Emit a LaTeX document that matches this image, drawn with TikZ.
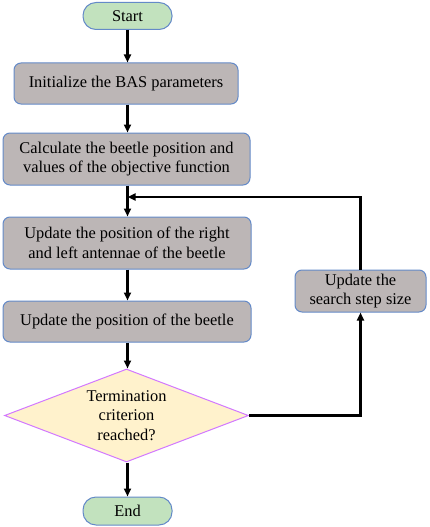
\documentclass[tikz,border=0pt]{standalone}
\usepackage{fontspec}
\setmainfont{Liberation Serif}
\usetikzlibrary{shapes.geometric,arrows.meta}
\definecolor{boxgray}{RGB}{188,182,182}
\definecolor{boxblue}{RGB}{100,138,200}
\definecolor{termgreen}{RGB}{194,226,190}
\definecolor{decfill}{RGB}{255,242,204}
\definecolor{decline}{RGB}{210,120,255}
\tikzset{
  procbox/.style={draw=boxblue, fill=boxgray, line width=1pt, rounded corners=7pt,
    align=center, inner sep=0pt, font=\fontsize{16.4}{19.5}\selectfont},
  termbox/.style={draw=boxblue, fill=termgreen, line width=1pt, rounded corners=13pt,
    align=center, inner sep=0pt, font=\fontsize{16.4}{19.5}\selectfont},
  decbox/.style={diamond, draw=decline, fill=decfill, line width=1pt, aspect=2.6,
    align=center, inner sep=0pt, font=\fontsize{16.4}{19.5}\selectfont},
  flow/.style={draw=black, line width=2.4pt, -{Triangle[length=8pt,width=7pt]}}
}
\begin{document}
\begin{tikzpicture}[x=1pt,y=1pt]
\useasboundingbox (0,0) rectangle (429,-527);
\node[termbox, minimum width=89pt, minimum height=27pt] (start) at (127.5,-16) {Start};
\node[procbox, minimum width=224pt, minimum height=41pt] (init) at (126,-83.5) {Initialize the BAS parameters};
\node[procbox, minimum width=247pt, minimum height=52pt] (calc) at (126.5,-159) {Calculate the beetle position and\\values of the objective function};
\node[procbox, minimum width=248pt, minimum height=52pt] (ant) at (127,-243) {Update the position of the right\\and left antennae of the beetle};
\node[procbox, minimum width=248pt, minimum height=41pt] (pos) at (127,-321.5) {Update the position of the beetle};
\node[decbox, minimum width=244pt, minimum height=93pt] (dec) at (126.5,-415.5) {Termination\\criterion\\reached?};
\node[termbox, minimum width=89pt, minimum height=28pt] (end) at (127.5,-511) {End};
\node[procbox, minimum width=131pt, minimum height=42pt] (step) at (360.5,-291) {Update the\\search step size};
\coordinate (join) at (127.5,-197);
\draw[flow] (start.south) -- (start.south |- init.north);
\draw[flow] (init.south -| start.south) -- (start.south |- calc.north);
\draw[flow] (calc.south -| start.south) -- (start.south |- ant.north);
\draw[flow] (ant.south -| start.south) -- (start.south |- pos.north);
\draw[flow] (pos.south -| start.south) -- (start.south |- dec.north);
\draw[flow] (dec.south -| start.south) -- (end.north);
\draw[flow] (dec.east) -| (step.south);
\draw[flow] (step.north) |- (join);
\end{tikzpicture}
\end{document}
